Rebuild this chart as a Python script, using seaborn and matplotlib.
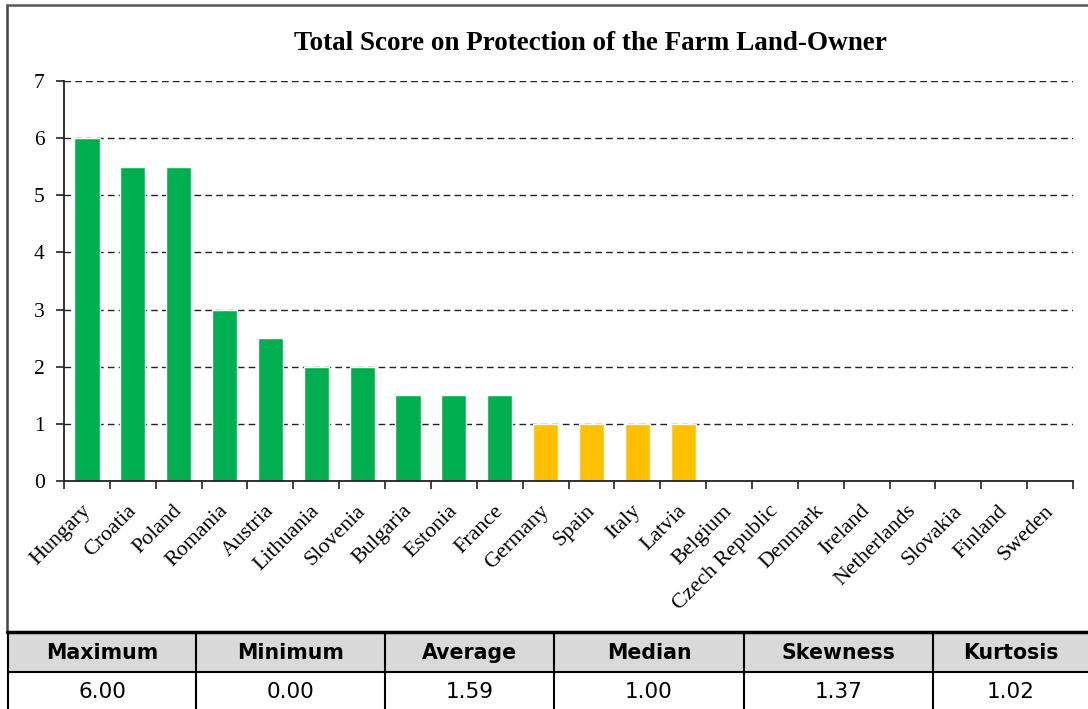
import matplotlib
matplotlib.use("Agg")
import matplotlib.pyplot as plt
from matplotlib.patches import Rectangle
from matplotlib.lines import Line2D
from matplotlib.ticker import FixedLocator, NullFormatter
from matplotlib.transforms import ScaledTranslation
import seaborn as sns
import pandas as pd

# Scores per member state, sorted from highest to lowest
countries = ["Hungary", "Croatia", "Poland", "Romania", "Austria", "Lithuania",
             "Slovenia", "Bulgaria", "Estonia", "France", "Germany", "Spain",
             "Italy", "Latvia", "Belgium", "Czech Republic", "Denmark", "Ireland",
             "Netherlands", "Slovakia", "Finland", "Sweden"]
scores = [6, 5.5, 5.5, 3, 2.5, 2, 2, 1.5, 1.5, 1.5, 1, 1, 1, 1,
          0, 0, 0, 0, 0, 0, 0, 0]
groups = ["high"] * 10 + ["mid"] * 4 + ["low"] * 8
group_colors = {"high": "#00B050", "mid": "#FFC000", "low": "#FFC000"}

stat_names = ["Maximum", "Minimum", "Average", "Median", "Skewness", "Kurtosis"]
stat_values = ["6.00", "0.00", "1.59", "1.00", "1.37", "1.02"]

df = pd.DataFrame({"country": countries, "score": scores, "group": groups})

sns.set_theme(style="white")
plt.rcParams["font.family"] = ["Liberation Serif", "DejaVu Serif"]
plt.rcParams["text.color"] = "black"

W, H = 1088, 709
fig = plt.figure(figsize=(W / 100, H / 100), dpi=100)
fig.patch.set_facecolor("white")

# Overlay axes in pixel coordinates for the frame and the stats table
bg = fig.add_axes([0, 0, 1, 1])
bg.set_xlim(0, W)
bg.set_ylim(H, 0)
bg.axis("off")

# Bar chart
x0, x1, y0, y1 = 64, 1073, 81, 481
ax = fig.add_axes([x0 / W, 1 - y1 / H, (x1 - x0) / W, (y1 - y0) / H])
sns.barplot(data=df, x="country", y="score", hue="group", palette=group_colors,
            dodge=False, width=0.55, legend=False, ax=ax, saturation=1)
ax.set_xlim(-0.5, len(countries) - 0.5)
ax.set_ylim(0, 7)
ax.set_yticks(range(0, 8))
ax.set_xlabel("")
ax.set_ylabel("")
ax.set_facecolor("none")
ax.yaxis.grid(True, linestyle=(0, (4.8, 3)), color="#222222", linewidth=1.0)
ax.set_axisbelow(True)
for side in ["top", "right"]:
    ax.spines[side].set_visible(False)
for side in ["left", "bottom"]:
    ax.spines[side].set_color("#222222")
    ax.spines[side].set_linewidth(1.3)

ax.tick_params(axis="y", which="major", left=True, length=6, width=1.2,
               color="#222222", labelsize=15.5, pad=8, labelcolor="black")
ax.tick_params(axis="x", which="major", bottom=False, length=0,
               labelsize=15.8, pad=4, labelcolor="black")
ax.set_xticks(range(len(countries)))
ax.set_xticklabels(countries, rotation=45, ha="right", rotation_mode="anchor")
ax.xaxis.set_minor_locator(FixedLocator([i - 0.5 for i in range(len(countries) + 1)]))
ax.xaxis.set_minor_formatter(NullFormatter())
ax.tick_params(axis="x", which="minor", bottom=True, length=6, width=1.2,
               color="#222222")
for lbl in ax.get_xticklabels():
    lbl.set_transform(lbl.get_transform() + ScaledTranslation(
        -0.06, -0.15, fig.dpi_scale_trans))

fig.text(590 / W, 1 - 44 / H, "Total Score on Protection of the Farm Land-Owner",
         ha="center", va="center", fontsize=19.5, fontweight="bold",
         color="black", family=["Liberation Serif", "DejaVu Serif"])

# Outer frame of the chart
bg.add_line(Line2D([7, 7], [5, 632], color="#444444", linewidth=1.8))
bg.add_line(Line2D([7, W], [5, 5], color="#555555", linewidth=1.8))

# Summary statistics table
col_edges = [8, 196, 385, 554, 744, 933, 1100]
ty0, ty1, ty2 = 632, 672, 709
bg.add_patch(Rectangle((8, ty0), W - 8, ty1 - ty0, facecolor="#D9D9D9",
                       edgecolor="none"))
bg.add_line(Line2D([7, W], [ty0, ty0], color="black", linewidth=2.5))
bg.add_line(Line2D([8, W], [ty1, ty1], color="black", linewidth=1.5))
for e in col_edges[:-1]:
    bg.add_line(Line2D([e, e], [ty0, ty2], color="black", linewidth=1.5))
for i, (name, val) in enumerate(zip(stat_names, stat_values)):
    cx = (col_edges[i] + min(col_edges[i + 1], W)) / 2
    bg.text(cx, (ty0 + ty1) / 2 + 1, name, ha="center", va="center",
            fontsize=14.8, fontweight="bold", family=["DejaVu Sans"],
            color="black")
    bg.text(cx, (ty1 + ty2) / 2 + 2, val, ha="center", va="center",
            fontsize=15.5, family=["DejaVu Sans"], color="black")

fig.savefig("out.png", dpi=100)
